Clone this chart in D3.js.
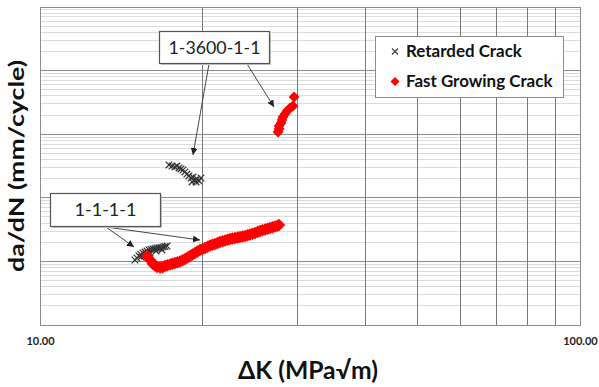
<!DOCTYPE html>
<html><head><meta charset="utf-8">
<script src="https://cdn.jsdelivr.net/npm/d3@7"></script>
<style>body{margin:0;background:#fff}svg{display:block}</style>
</head><body><svg id="c" width="599" height="387"></svg>
<script>
// ---- data (ΔK in MPa√m, da/dN in mm/cycle) ----
const retardedK_1111 = [14.99,15.12,15.25,15.38,15.51,15.65,15.78,15.92,16.06,16.19,16.33,16.47,16.61,16.75,16.90,17.04,17.19,15.38,15.65,15.99,16.40,16.82];
const retardedRate_1111 = [1.052e-5,1.131e-5,1.216e-5,1.284e-5,1.356e-5,1.405e-5,1.457e-5,1.511e-5,1.539e-5,1.567e-5,1.595e-5,1.625e-5,1.625e-5,1.654e-5,1.685e-5,1.715e-5,1.746e-5,1.172e-5,1.261e-5,1.356e-5,1.457e-5,1.511e-5];

const retardedK_3600 = [17.33,17.56,17.78,17.93,18.09,18.24,18.40,18.55,18.71,18.87,19.04,19.20,19.36,19.53,19.70,19.87,19.12,19.45];
const retardedRate_3600 = [3.279e-4,3.162e-4,3.050e-4,3.162e-4,2.942e-4,2.837e-4,2.736e-4,2.545e-4,2.367e-4,2.202e-4,2.048e-4,2.123e-4,1.905e-4,1.975e-4,1.837e-4,2.048e-4,1.772e-4,1.772e-4];

const fastK_1111 = [15.78,15.99,16.19,16.47,16.68,17.04,17.41,17.78,18.17,18.56,18.96,19.37,19.78,20.21,20.64,21.09,21.54,22.01,22.48,22.97,23.46,23.97,24.48,25.01,25.55,26.10,26.66,27.24,27.71,
  18.36,18.76,19.16,19.58,19.99,20.43,20.86,21.32,21.77,22.25,22.72,23.22,23.71,24.23,24.74,25.28,25.82,26.38,26.95,27.53,
  16.33,16.86,17.22,17.59,17.97];
const fastRate_1111 = [1.216e-5,1.052e-5,9.10e-6,8.17e-6,8.02e-6,8.47e-6,8.94e-6,9.44e-6,9.96e-6,1.091e-5,1.216e-5,1.356e-5,1.511e-5,1.625e-5,1.778e-5,1.877e-5,2.018e-5,2.131e-5,2.250e-5,2.333e-5,2.419e-5,2.508e-5,2.648e-5,2.796e-5,3.006e-5,3.174e-5,3.351e-5,3.538e-5,3.735e-5,
  1.043e-5,1.152e-5,1.284e-5,1.431e-5,1.567e-5,1.700e-5,1.827e-5,1.947e-5,2.074e-5,2.190e-5,2.291e-5,2.376e-5,2.463e-5,2.577e-5,2.721e-5,2.899e-5,3.089e-5,3.261e-5,3.443e-5,3.635e-5,
  8.60e-6,8.10e-6,8.70e-6,9.18e-6,9.70e-6];

const fastK_3600 = [27.59,27.71,27.71,27.95,28.06,28.18,28.42,28.67,29.04,29.41,29.54];
const fastRate_3600 = [1.083e-3,1.207e-3,1.345e-3,1.500e-3,1.673e-3,1.864e-3,2.078e-3,2.317e-3,2.582e-3,2.776e-3,3.845e-3];

const xTickValues = [10, 100];
const xTickLabels = ["10.00", "100.00"];
const seriesNames = ["Retarded Crack", "Fast Growing Crack"];
const xTitle = "ΔK (MPa√m)";
const yTitle = "da/dN (mm/cycle)";

// annotation labels and their arrow tips (ΔK, da/dN)
const annLabels = ["1-3600-1-1", "1-1-1-1"];
const annTipsK = [[19.20, 27.13], [14.93, 19.78]];
const annTipsRate = [[4.71e-4, 2.677e-3], [1.685e-5, 2.171e-5]];

// ---- drawing ----
const svg = d3.select("#c");
const FONT = "Lato, 'Open Sans', sans-serif";
const x = d3.scaleLog().domain([10, 100]).range([40, 580]);
const y = d3.scaleLog().domain([1e-6, 1e-1]).range([325, 7]);

svg.append("rect").attr("width", 599).attr("height", 387).attr("fill", "#fff");

const grid = svg.append("g");
const yt = y.ticks();
const isMajor = v => Math.abs(Math.log10(v) - Math.round(Math.log10(v))) < 1e-6;
grid.selectAll("line.ymin").data(yt.filter(v => !isMajor(v))).join("line")
  .attr("x1", 40).attr("x2", 580).attr("y1", d => y(d)).attr("y2", d => y(d))
  .attr("stroke", "#dcdcdc").attr("stroke-width", 1).attr("shape-rendering", "crispEdges");
grid.selectAll("line.ymaj").data(yt.filter(isMajor)).join("line")
  .attr("x1", 40).attr("x2", 580).attr("y1", d => y(d)).attr("y2", d => y(d))
  .attr("stroke", "#8c8c8c").attr("stroke-width", 1).attr("shape-rendering", "crispEdges");
grid.selectAll("line.xg").data(x.ticks()).join("line")
  .attr("x1", d => x(d)).attr("x2", d => x(d)).attr("y1", 7).attr("y2", 325)
  .attr("stroke", "#7a7a7a").attr("stroke-width", 1).attr("shape-rendering", "crispEdges");
grid.append("rect").attr("x", 40).attr("y", 7).attr("width", 540).attr("height", 318)
  .attr("fill", "none").attr("stroke", "#8c8c8c").attr("shape-rendering", "crispEdges");

// x tick labels
svg.selectAll("text.xt").data(xTickValues).join("text")
  .attr("x", d => x(d) + 0.5).attr("y", 345).attr("text-anchor", "middle")
  .attr("font-family", FONT).attr("font-weight", "bold").attr("font-size", 11)
  .attr("fill", "#222").text((d, i) => xTickLabels[i]);

function fit(t, w) {
  const cur = +t.attr("font-size");
  const len = t.node().getComputedTextLength();
  t.attr("font-size", (cur * w / len).toFixed(2));
}

const xt = svg.append("text").attr("x", 308).attr("y", 379).attr("text-anchor", "middle")
  .attr("font-family", FONT).attr("font-weight", "bold").attr("font-size", 20).attr("fill", "#111").text(xTitle);
fit(xt, 140);
svg.append("text").attr("transform", "translate(24,166) rotate(-90)").attr("text-anchor", "middle")
  .attr("font-family", FONT).attr("font-weight", "bold").attr("font-size", 21).attr("fill", "#111")
  .attr("textLength", 212).attr("lengthAdjust", "spacingAndGlyphs").text(yTitle);

// markers
const crossPath = s => `M${-s},${-s}L${s},${s}M${-s},${s}L${s},${-s}`;
const diamondPath = s => `M0,${-s}L${s},0L0,${s}L${-s},0Z`;

function crosses(K, R) {
  svg.append("g").selectAll("path").data(K.map((k, i) => [k, R[i]])).join("path")
    .attr("transform", d => `translate(${x(d[0])},${y(d[1])})`)
    .attr("d", crossPath(3.3)).attr("stroke", "#333").attr("stroke-width", 1.2).attr("fill", "none");
}
function diamonds(K, R, s) {
  svg.append("g").selectAll("path").data(K.map((k, i) => [k, R[i]])).join("path")
    .attr("transform", d => `translate(${x(d[0])},${y(d[1])})`)
    .attr("d", diamondPath(s)).attr("fill", "#ff0000");
}
crosses(retardedK_1111, retardedRate_1111);
crosses(retardedK_3600, retardedRate_3600);
diamonds(fastK_1111, fastRate_1111, 6.2);
diamonds(fastK_3600, fastRate_3600, 5.4);

// legend
const lg = svg.append("g");
lg.append("rect").attr("x", 375.5).attr("y", 36.5).attr("width", 188).attr("height", 61)
  .attr("fill", "#fff").attr("stroke", "#8c8c8c");
lg.append("path").attr("transform", "translate(395,51.5)").attr("d", crossPath(3))
  .attr("stroke", "#444").attr("stroke-width", 1.3);
lg.append("path").attr("transform", "translate(395,81.5)").attr("d", diamondPath(4.5)).attr("fill", "#ff0000");
const l1 = lg.append("text").attr("x", 406).attr("y", 56.5).attr("font-family", FONT).attr("font-weight", "bold")
  .attr("font-size", 15).attr("fill", "#111").text(seriesNames[0]);
fit(l1, 116);
lg.append("text").attr("x", 406).attr("y", 86.5).attr("font-family", FONT).attr("font-weight", "bold")
  .attr("font-size", l1.attr("font-size")).attr("fill", "#111").text(seriesNames[1]);

// annotations
const defs = svg.append("defs");
defs.append("marker").attr("id", "ah").attr("viewBox", "0 0 10 10").attr("refX", 10).attr("refY", 5)
  .attr("markerWidth", 7).attr("markerHeight", 7).attr("orient", "auto-start-reverse")
  .attr("markerUnits", "userSpaceOnUse")
  .append("path").attr("d", "M0,0L10,5L0,10Z").attr("fill", "#222");

const boxes = [{x: 159.5, y: 31.5, w: 110, h: 32, starts: [[209, 64], [247, 64]], tw: 92},
               {x: 50.5, y: 193.5, w: 110, h: 33, starts: [[106, 227], [106, 227]], tw: 62}];
boxes.forEach((b, i) => {
  const g = svg.append("g");
  b.starts.forEach((s, j) => {
    g.append("line").attr("x1", s[0]).attr("y1", s[1])
      .attr("x2", x(annTipsK[i][j])).attr("y2", y(annTipsRate[i][j]))
      .attr("stroke", "#333").attr("stroke-width", 0.9).attr("marker-end", "url(#ah)");
  });
  g.append("rect").attr("x", b.x + 1.5).attr("y", b.y + 1.5).attr("width", b.w).attr("height", b.h)
    .attr("fill", "#c8c8c8");
  g.append("rect").attr("x", b.x).attr("y", b.y).attr("width", b.w).attr("height", b.h)
    .attr("fill", "#fff").attr("stroke", "#555").attr("stroke-width", 1.2);
  const t = g.append("text").attr("x", b.x + b.w / 2).attr("y", b.y + b.h / 2 + 6)
    .attr("text-anchor", "middle").attr("font-family", FONT).attr("font-size", 17).attr("fill", "#222")
    .text(annLabels[i]);
  fit(t, b.tw);
});
</script></body></html>
